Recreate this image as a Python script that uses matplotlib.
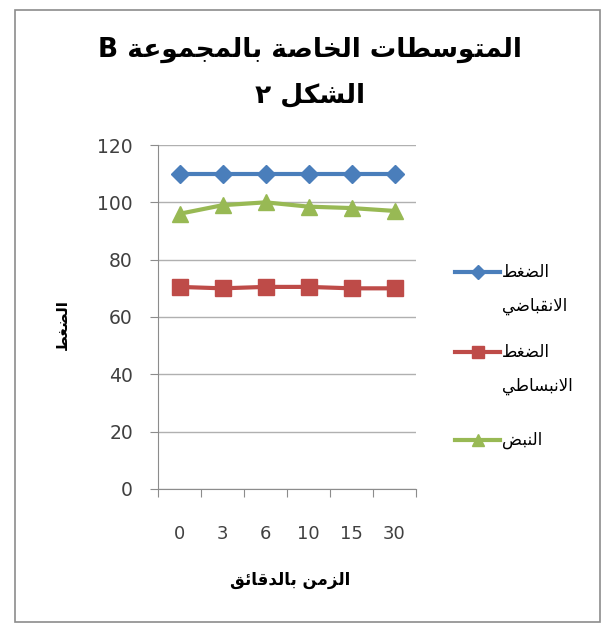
import numpy as np
import matplotlib
matplotlib.use('Agg')
import matplotlib.pyplot as plt
from matplotlib.patches import Rectangle
from matplotlib.lines import Line2D

# data
times = ['0', '3', '6', '10', '15', '30']
systolic = [110, 110, 110, 110, 110, 110]
diastolic = [70.5, 70, 70.5, 70.5, 70, 70]
pulse = [96, 99, 100, 98.5, 98, 97]
title_lines = ['المتوسطات الخاصة بالمجموعة B', 'الشكل ٢']
y_label = 'الضغط'
x_label = 'الزمن بالدقائق'
legend_labels = [['الضغط', 'الانقباضي'], ['الضغط', 'الانبساطي'], ['النبض']]

# minimal arabic shaping (presentation forms) + visual reversal
FOUR = {'ئ': 0xFE89, 'ب': 0xFE8F, 'ت': 0xFE95, 'ث': 0xFE99, 'ج': 0xFE9D, 'ح': 0xFEA1, 'خ': 0xFEA5,
        'س': 0xFEB1, 'ش': 0xFEB5, 'ص': 0xFEB9, 'ض': 0xFEBD, 'ط': 0xFEC1, 'ظ': 0xFEC5,
        'ع': 0xFEC9, 'غ': 0xFECD, 'ف': 0xFED1, 'ق': 0xFED5, 'ك': 0xFED9, 'ل': 0xFEDD,
        'م': 0xFEE1, 'ن': 0xFEE5, 'ه': 0xFEE9, 'ي': 0xFEF1}
TWO = {'ا': 0xFE8D, 'ة': 0xFE93, 'د': 0xFEA9, 'ذ': 0xFEAB, 'ر': 0xFEAD, 'ز': 0xFEAF,
       'و': 0xFEED, 'ى': 0xFEEF}

def shape(s):
    chars = []
    i = 0
    while i < len(s):
        if s[i] == 'ل' and i + 1 < len(s) and s[i+1] == 'ا':
            chars.append('LA'); i += 2
        else:
            chars.append(s[i]); i += 1
    def joins_left(c):
        return c in FOUR
    def is_ar(c):
        return c in FOUR or c in TWO or c == 'LA'
    out = []
    for k, c in enumerate(chars):
        prev = chars[k-1] if k > 0 else None
        nxt = chars[k+1] if k + 1 < len(chars) else None
        p = prev is not None and joins_left(prev)
        n = nxt is not None and is_ar(nxt) and joins_left(c)
        if c == 'LA':
            out.append(chr(0xFEFC if p else 0xFEFB))
        elif c in FOUR:
            b = FOUR[c]
            out.append(chr(b + (3 if p and n else 1 if p else 2 if n else 0)))
        elif c in TWO:
            out.append(chr(TWO[c] + (1 if p else 0)))
        else:
            out.append(c)
    return ''.join(out[::-1])

plt.rcParams['font.family'] = ['DejaVu Sans']
W, H = 614, 630

fig = plt.figure(figsize=(W/100, H/100), dpi=100)
fig.patches.append(Rectangle((15/W, 1-622/H), 585/W, 612/H, transform=fig.transFigure,
                             fill=False, edgecolor='#8c8c8c', lw=1.2))

ax = fig.add_axes([158/W, 1-489/H, 258/W, 344/H])
x = np.arange(len(times)) + 0.5
styles = [dict(color='#4a7ebb', marker='D', ms=9),
          dict(color='#be4b48', marker='s', ms=11),
          dict(color='#98b954', marker='^', ms=11)]
for vals, st in zip([systolic, diastolic, pulse], styles):
    ax.plot(x, vals, lw=3, **st)

ax.set_xlim(0, len(times))
ax.set_ylim(0, 120)
ax.set_yticks(range(0, 121, 20))
ax.set_xticks(np.arange(len(times) + 1))
ax.set_xticklabels([])
ax.set_xticks(x, minor=True)
ax.set_xticklabels(times, minor=True)
ax.tick_params(axis='x', which='minor', length=0, pad=26, labelsize=13, labelcolor='#404040')
ax.tick_params(axis='x', which='major', length=6, color='#8c8c8c', direction='out')
ax.tick_params(axis='y', length=6, color='#8c8c8c', labelsize=13.5, labelcolor='#404040', pad=12)
ax.grid(axis='y', color='#b0b0b0', lw=1)
ax.set_axisbelow(True)
for sp in ['top', 'right']:
    ax.spines[sp].set_visible(False)
for sp in ['left', 'bottom']:
    ax.spines[sp].set_color('#8c8c8c')

fig.text(310/W, 1-50/H, shape(title_lines[0]), ha='center', va='center', fontsize=19, weight='bold')
fig.text(310/W, 1-95/H, shape(title_lines[1]), ha='center', va='center', fontsize=19, weight='bold')
fig.text(62/W, 1-325/H, shape(y_label), rotation=90, ha='center', va='center', fontsize=11, weight='bold')
fig.text(290/W, 1-580/H, shape(x_label), ha='center', va='center', fontsize=12, weight='bold')

# legend drawn by hand so the key sits on the first text line, as in the original
leg_y = [272, 352, 440]
for lines, st, y in zip(legend_labels, styles, leg_y):
    fig.add_artist(Line2D([455/W, 500/W], [1-y/H, 1-y/H], lw=3, color=st['color']))
    fig.add_artist(Line2D([477.5/W], [1-y/H], marker=st['marker'], ms=st['ms']*0.8,
                          color=st['color'], lw=0))
    for j, line in enumerate(lines):
        fig.text(502/W, 1-(y + 34*j)/H, shape(line), ha='left', va='center', fontsize=12)

fig.savefig('out.png', dpi=100)
